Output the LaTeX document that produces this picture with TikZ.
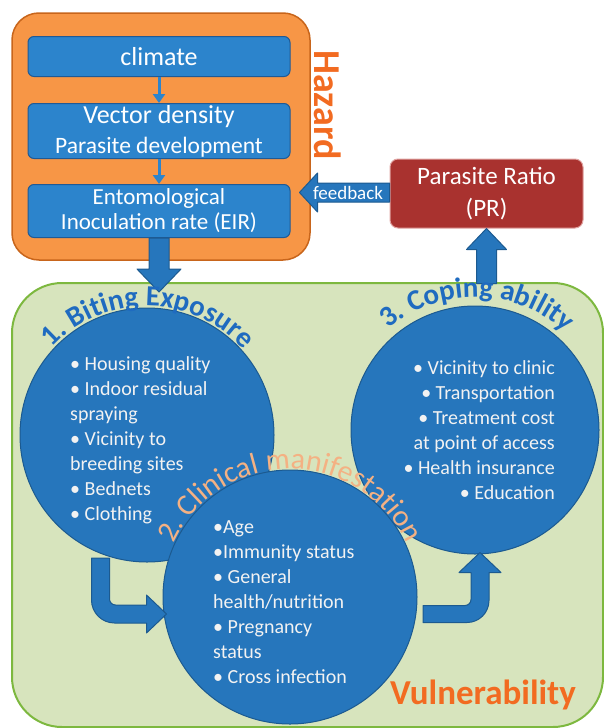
\documentclass[tikz,border=0pt]{standalone}
\usepackage{fontspec}
\setmainfont{Carlito}
\usetikzlibrary{arrows.meta,calc,decorations.text}
\definecolor{hzorange}{HTML}{F79646}
\definecolor{hzedge}{HTML}{C8651B}
\definecolor{hztext}{HTML}{F26B21}
\definecolor{boxblue}{HTML}{2C84CC}
\definecolor{boxedge}{HTML}{1F5A96}
\definecolor{ballblue}{HTML}{2676BC}
\definecolor{balledge}{HTML}{1C5A90}
\definecolor{vulgreen}{HTML}{D7E4BD}
\definecolor{vuledge}{HTML}{7DB83F}
\definecolor{prred}{HTML}{A9322F}
\definecolor{predge}{HTML}{E0A3A1}
\definecolor{titleblue}{HTML}{1F6BC0}
\definecolor{peach}{HTML}{F4B183}
\definecolor{itemgray}{HTML}{F2F2F2}
\def\fs#1{\fontsize{#1}{#1}\selectfont}
\def\dblock{\draw[blockarrow]}

\begin{document}
\begin{tikzpicture}[x=1pt,y=-1pt,
    box/.style={draw=boxedge,fill=boxblue,line width=1pt,rounded corners=6pt,
      minimum width=262pt,text=white,align=center,inner sep=0pt},
    thinarrow/.style={draw=boxblue,line width=3pt,-{Triangle[width=12pt,length=9pt]}},
    blockarrow/.style={draw=balledge,fill=ballblue,line width=1pt,line join=round},
    ball/.style={circle,draw=balledge,fill=ballblue,line width=1pt,inner sep=0pt},
    items/.style={text=itemgray,inner sep=0pt,font=\fontsize{20}{25}\selectfont},
    arctitle/.style={decorate,decoration={text along path,text align=center,text color=#1}}]
  \useasboundingbox (0,0) rectangle (604,728);

  % hazard part
  \node[draw=hzedge,fill=hzorange,line width=1.5pt,rounded corners=27pt,
    minimum width=298pt,minimum height=247pt,inner sep=0pt] (hazard) at (161,136.5) {};
  \node[box,minimum height=40pt,font=\fs{26}] (climate) at (159,56.5) {climate};
  \node[box,minimum height=55pt,font=\fontsize{26}{30}\selectfont] (vector) at (159,131)
    {Vector density\\\fontsize{23.5}{30}\selectfont Parasite development};
  \node[box,minimum height=53pt,font=\fontsize{23}{25}\selectfont] (eir) at (159,211)
    {Entomological\\Inoculation rate (EIR)};
  \draw[thinarrow] (climate) -- (vector);
  \draw[thinarrow] (vector) -- (eir);
  \node[rotate=-90,text=hztext,font=\fs{38}\bfseries] (hazardlabel) at (328,105) {Hazard};

  % parasite ratio
  \node[draw=predge,fill=prred,line width=1pt,rounded corners=8pt,minimum width=193pt,
    minimum height=69pt,text=white,align=center,font=\fontsize{25}{32}\selectfont]
    (pr) at (486.5,193.5) {Parasite Ratio\\(PR)};

  % vulnerability part
  \node[draw=vuledge,fill=vulgreen,line width=2pt,rounded corners=50pt,
    minimum width=591pt,minimum height=444pt] (vuln) at (307.5,505) {};

  % block arrows
  \dblock ($(eir.south)+(-10,0)$) -- ++(0,31) -- ++(-12,0) -- ++(22,23) -- ++(22,-23)
    -- ++(-12,0) -- ++(0,-31) -- cycle;
  \dblock ($(pr.south)+(-10,55)$) -- ++(0,-34) -- ++(-10,0) -- ++(20,-21) -- ++(20,21)
    -- ++(-10,0) -- ++(0,34) -- cycle;
  \dblock ($(pr.west)+(0,-10.5)$) -- ++(-72,0) -- ++(0,-10) -- ++(-18,19.5) -- ++(18,19.5)
    -- ++(0,-10) -- ++(72,0) -- cycle;
  \node[text=white,font=\fs{19}] (feedback) at (348,193) {feedback};

  \node[ball,minimum size=254pt] (biting) at (147,435) {};
  \node[ball,minimum size=248pt] (coping) at (475,430) {};
  \node[ball,minimum size=254pt] (clinical) at (290,597) {};

  % bent arrows
  \dblock ($(clinical.west)+(4,17)$) -- ++(-20,-19) -- ++(0,10) -- ++(-31,0)
    arc[start angle=90,end angle=180,radius=6] -- ++(0,-41) -- ++(-18,0) -- ++(0,42)
    arc[start angle=180,end angle=90,radius=23] -- ++(32,0) -- ++(0,10) -- cycle;
  \dblock ($(coping.south)+(5,-2)$) -- ++(21,20) -- ++(-12,0) -- ++(0,28)
    arc[start angle=0,end angle=90,radius=22] -- ++(-44,0) -- ++(0,-17) -- ++(42,0)
    arc[start angle=90,end angle=0,radius=6] -- ++(0,-27) -- ++(-12,0) -- cycle;

  % titles round the circles
  \path[arctitle=titleblue,decoration={text={|\fs{29}\bfseries|1. Biting Exposure}}]
    ($(biting.center)+(-141:129)$) arc[start angle=-141,end angle=-38,radius=129];
  \path[arctitle=peach,decoration={text={|\fs{30}|2. Clinical manifestation}}]
    ($(clinical.center)+(-158:128)$) arc[start angle=-158,end angle=-22,radius=128];
  \path[arctitle=titleblue,decoration={text={|\fs{29}\bfseries|3. Coping ability}}]
    ($(coping.center)+(-132:133)$) arc[start angle=-132,end angle=-46,radius=133];

  % items
  \node[items,anchor=west,align=left] (bitingitems) at (70,440)
    {\textbullet\ Housing quality\\\textbullet\ Indoor residual\\spraying\\
     \textbullet\ Vicinity to\\breeding sites\\\textbullet\ Bednets\\\textbullet\ Clothing};
  \node[items,anchor=west,align=left] (clinicalitems) at (213,602)
    {\textbullet Age\\\textbullet Immunity status\\\textbullet\ General\\health/nutrition\\
     \textbullet\ Pregnancy\\status\\\textbullet\ Cross infection};
  \node[items,anchor=east,align=right] (copingitems) at (555,430.5)
    {\textbullet\ Vicinity to clinic\\\textbullet\ Transportation\\\textbullet\ Treatment cost\\
     at point of access\\\textbullet\ Health insurance\\\textbullet\ Education};

  \node[text=hztext,font=\fs{35}\bfseries] (vulnlabel) at (483,695) {Vulnerability};
\end{tikzpicture}
\end{document}
